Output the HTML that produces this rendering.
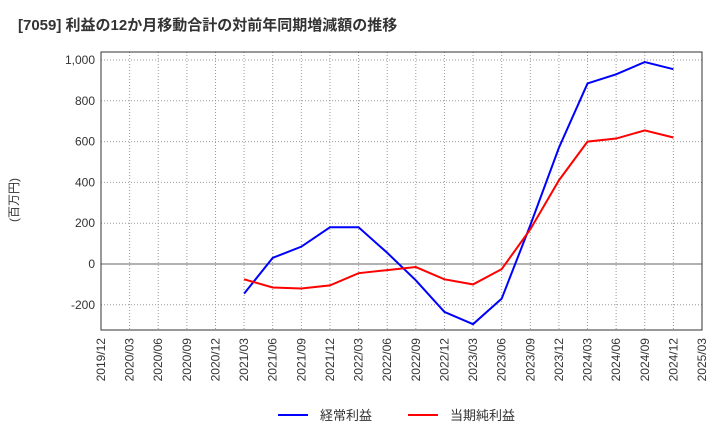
<!DOCTYPE html>
<html><head><meta charset="utf-8"><style>
body{margin:0;background:#fff;font-family:"Liberation Sans","Noto Sans CJK JP",sans-serif}
</style></head><body>
<svg id="c" width="720" height="440" xmlns="http://www.w3.org/2000/svg" font-family="Liberation Sans, Noto Sans CJK JP, sans-serif">
<text x="18" y="30" font-size="15" font-weight="bold" fill="#333">[7059]  利益の12か月移動合計の対前年同期増減額の推移</text>
<text transform="translate(18,200) rotate(-90)" font-size="12" fill="#333" text-anchor="middle">(百万円)</text>
<g id="grid"></g><g id="axes"></g><g id="series"></g>
<g>
<line x1="278" y1="415" x2="308" y2="415" stroke="#0000ff" stroke-width="2"/>
<text x="320" y="420" font-size="13" fill="#333">経常利益</text>
<line x1="408" y1="415" x2="438" y2="415" stroke="#ff0000" stroke-width="2"/>
<text x="450" y="420" font-size="13" fill="#333">当期純利益</text>
</g>
</svg>
<script>
const xLabels=["2019/12","2020/03","2020/06","2020/09","2020/12","2021/03","2021/06","2021/09","2021/12","2022/03","2022/06","2022/09","2022/12","2023/03","2023/06","2023/09","2023/12","2024/03","2024/06","2024/09","2024/12","2025/03"];
const yTicks=[-200,0,200,400,600,800,1000];
const startIndex=5;
const keijo=[-145,30,85,180,180,55,-80,-235,-295,-170,190,570,885,930,990,955];
const junri=[-75,-115,-120,-105,-45,-30,-15,-75,-100,-25,170,410,600,615,655,620];
const NS="http://www.w3.org/2000/svg";
const L=101,R=702,T=52,B=330;
const xs=i=>L+i*(R-L)/(xLabels.length-1);
const ys=v=>264-v*0.204;
function mk(t,a,p){const e=document.createElementNS(NS,t);for(const k in a)e.setAttribute(k,a[k]);p.appendChild(e);return e;}
const g=document.getElementById('grid'),ax=document.getElementById('axes'),s=document.getElementById('series');
xLabels.forEach((l,i)=>{
 const ln=mk('line',{x1:xs(i),x2:xs(i),y1:T,y2:B,stroke:'#999','stroke-dasharray':'1,2'},g);
 
 
 const t=mk('text',{transform:`translate(${xs(i)+4},${B+8}) rotate(-90)`,'font-size':12,fill:'#333','text-anchor':'end'},ax);
 t.textContent=l;
 
 
});
yTicks.forEach(v=>{
 const ln=mk('line',{x1:L,x2:R,y1:ys(v),y2:ys(v),stroke:v===0?'#666':'#999','stroke-dasharray':v===0?'':'1,2'},g);
 
 
 const t=mk('text',{x:L-6,y:ys(v)+4,'font-size':12,fill:'#333','text-anchor':'end'},ax);
 t.textContent=v.toLocaleString('en-US');
 
 
});
const fr=mk('rect',{x:L,y:T,width:R-L,height:B-T,fill:'none',stroke:'#333'},ax);


function line(d,c,n){const p=mk('polyline',{points:d.map((v,i)=>xs(i+startIndex)+','+ys(v)).join(' '),fill:'none',stroke:c,'stroke-width':2},s);
 
 }
line(keijo,'#0000ff','keijo-line');
line(junri,'#ff0000','junri-line');
</script>
</body></html>
